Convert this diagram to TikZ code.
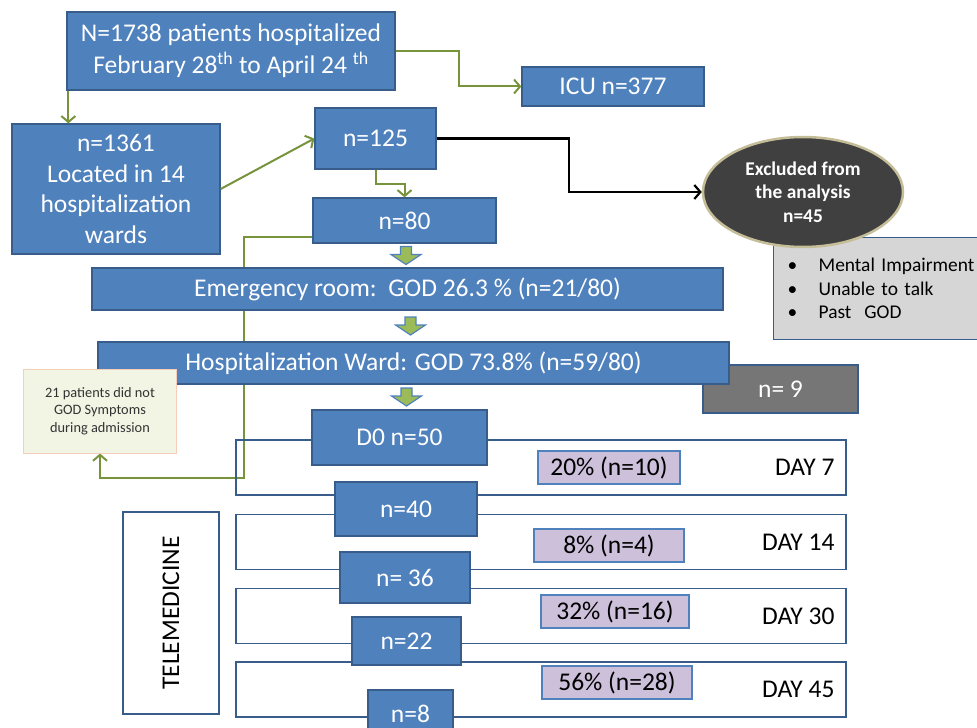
\documentclass[tikz,border=0pt]{standalone}
\usepackage{fontspec}
\setmainfont{Carlito}
\usepackage{tikz}
\usetikzlibrary{positioning,arrows.meta,calc,shapes.geometric,backgrounds}
\usepackage{xcolor}
\definecolor{boxblue}{HTML}{4F81BD}
\definecolor{edgeblue}{HTML}{385D8A}
\definecolor{linegreen}{HTML}{77933C}
\definecolor{arrowgreen}{HTML}{9BBB59}
\definecolor{pctlilac}{HTML}{CCC0DA}
\definecolor{listgray}{HTML}{D6D6D6}
\definecolor{ovaldark}{HTML}{404040}
\definecolor{ovalrim}{HTML}{C4BD97}
\definecolor{notefill}{HTML}{F2F4E4}
\definecolor{noterim}{HTML}{F6CDB8}
\definecolor{ninegray}{HTML}{767676}

\begin{document}
\begin{tikzpicture}[
    x=1bp, y=-1bp,
    bluebox/.style={rectangle, draw=edgeblue, line width=1.3bp, fill=boxblue, text=white, align=center, inner sep=0pt, font=\fontsize{25.6}{30.5}\selectfont},
    dayframe/.style={rectangle, draw=edgeblue, line width=1.3bp, minimum width=610bp, minimum height=55bp, inner sep=0pt},
    pctbox/.style={rectangle, draw=boxblue, line width=1.3bp, fill=pctlilac, inner sep=0pt, minimum height=33bp, font=\fontsize{25.6}{28}\selectfont},
    daylabel/.style={inner sep=0pt, font=\fontsize{25.6}{28}\selectfont},
    greenarrow/.style={draw=linegreen, line width=2bp, -{Straight Barb[length=6bp,width=14bp]}},
    blackarrow/.style={draw=black, line width=2.2bp, -{Straight Barb[length=6bp,width=14bp]}},
    flowdown/.pic={\draw[draw=boxblue, fill=arrowgreen, line width=1.2bp] (-5.5,-9) -- (-5.5,-1) -- (-15,-1) -- (0,9) -- (15,-1) -- (5.5,-1) -- (5.5,-9) -- cycle;}
]
\useasboundingbox (0,0) rectangle (977,728);

\node[dayframe] (d7) at (541,467.5) {};
\node[dayframe, below=18bp of d7] (d14) {};
\node[dayframe, below=18bp of d14] (d30) {};
\node[dayframe, below=17bp of d30] (d45) {};
\node[daylabel, left=12bp of d7.east] (lab7) {DAY 7};
\node[daylabel, left=12bp of d14.east] (lab14) {DAY 14};
\node[daylabel, left=12bp of d30.east] (lab30) {DAY 30};
\node[daylabel, left=12bp of d45.east] (lab45) {DAY 45};
\node[pctbox, minimum width=142bp] (p7) at (609,0 |- d7.center) {20\% (n=10)};
\node[pctbox, minimum width=150bp] (p14) at (609,545.5) {8\% (n=4)};
\node[pctbox, minimum width=148bp] (p30) at (615,611.5) {32\% (n=16)};
\node[pctbox, minimum width=150bp] (p45) at (617,682.5) {56\% (n=28)};
\node[rectangle, draw=edgeblue, line width=1.3bp, rotate=90, minimum width=202bp, minimum height=96bp, font=\fontsize{25.6}{28}\selectfont] (tele) at (171,613) {TELEMEDICINE};

\node[bluebox, minimum width=328bp, minimum height=78bp, font=\fontsize{25.6}{32}\selectfont] (total) at (231,51) {N=1738 patients hospitalized\\February 28\textsuperscript{th} to April 24 \textsuperscript{th}};
\node[bluebox, minimum width=182bp, minimum height=39bp] (icu) at (613,86.5) {ICU n=377};
\node[bluebox, minimum width=208bp, minimum height=130bp] (wards) at (116,189) {n=1361\\Located in 14\\hospitalization\\wards};
\node[bluebox, minimum width=121bp, minimum height=61bp] (n125) at (375.5,138.5) {n=125};
\node[bluebox, minimum width=183bp, minimum height=45bp] (n80) at (404.5,220.5) {n=80};

\node[rectangle, draw=edgeblue, line width=1.3bp, fill=listgray, anchor=north west, minimum height=102bp, inner xsep=14bp, inner ysep=0pt, text width=210bp, align=left, font=\fontsize{19.5}{23.5}\selectfont] (why) at (773,237) {\makebox[31bp][l]{\textbullet}Mental Impairment\\\makebox[31bp][l]{\textbullet}Unable to talk\\\makebox[31bp][l]{\textbullet}Past\ \ GOD};
\node[ellipse, draw=ovalrim, line width=2.5bp, fill=ovaldark, text=white, minimum width=200bp, minimum height=110bp, inner sep=0pt, align=center, font=\bfseries\fontsize{19.5}{23.5}\selectfont] (excl) at (803,192) {Excluded from\\the analysis\\n=45};

\node[bluebox, fill=ninegray, minimum width=155bp, minimum height=48bp] (nine) at (780.5,389) {n= 9};
\node[bluebox, minimum width=631bp, minimum height=42bp] (er) at (407.5,289) {Emergency room:\ \ GOD 26.3 \% (n=21/80)};
\node[bluebox, minimum width=631bp, minimum height=42bp] (ward) at (413.5,363) {Hospitalization Ward: GOD 73.8\% (n=59/80)};
\node[rectangle, draw=noterim, line width=1bp, fill=notefill, minimum width=152bp, minimum height=84bp, inner sep=0pt, align=center, text=black!80, font=\fontsize{14.4}{17.5}\selectfont] (note) at (100,411) {21 patients did not\\GOD Symptoms\\during admission};

\node[bluebox, minimum width=175bp, minimum height=55bp] (d0) at (399.5,437.5) {D0 n=50};
\node[bluebox, minimum width=142bp, minimum height=54bp] (n40) at (406,509) {n=40};
\node[bluebox, minimum width=130bp, minimum height=51bp] (n36) at (405,577.5) {n= 36};
\node[bluebox, minimum width=109bp, minimum height=48bp] (n22) at (406.5,641) {n=22};
\node[bluebox, minimum width=85bp, minimum height=48bp] (n8) at (410.5,714) {n=8};

\coordinate (drop) at ([xshift=2bp]total.south west);
\draw[greenarrow] (drop) -- (drop |- wards.north);
\draw[greenarrow] (total.east) -- ++(63.5,0) |- (icu.west);
\draw[greenarrow] (wards.east) -- (n125.west);
\draw[greenarrow] (n125.south) -- ++(0,14) -| (n80.north);
\draw[blackarrow] (n125.east) -- ++(132,0) |- (excl.west);
\begin{scope}[on background layer]
\draw[greenarrow] ([yshift=-16bp]n80.west) -- ++(-68,0) |- ($(note.south)+(0,24)$) -- (note.south);
\end{scope}

\pic at ($(n80.south)!0.5!(er.north)$) {flowdown};
\pic at ($(er.south)!0.5!(ward.north)$) {flowdown};
\pic at ($(ward.south)!0.5!(d0.north)$) {flowdown};
\end{tikzpicture}
\end{document}
